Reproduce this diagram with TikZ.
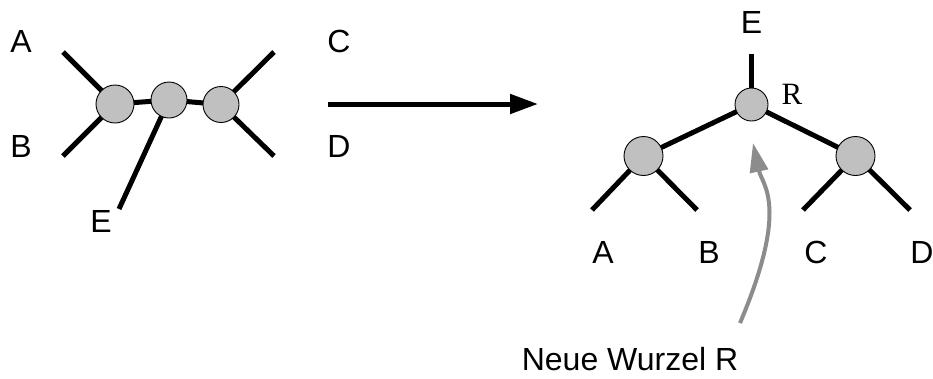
\documentclass[tikz,border=0pt]{standalone}
\usepackage{fontspec}
\setmainfont{Liberation Sans}
\newfontfamily\serifR{Liberation Serif}
\usetikzlibrary{arrows.meta,backgrounds}
\definecolor{knotgray}{HTML}{C0C0C0}
\definecolor{arrowgray}{HTML}{8C8C8C}
\tikzset{
  knot/.style={circle, draw=black, line width=0.9pt, fill=knotgray, inner sep=0pt, minimum size=#1},
  edge/.style={line width=5pt, line cap=butt},
  lbl/.style={anchor=base, inner sep=0pt, font=\fontsize{32}{38}\selectfont},
  rlbl/.style={anchor=base, inner sep=0pt, font=\fontsize{31}{36}\selectfont\serifR},
}
\begin{document}
\begin{tikzpicture}[x=1pt, y=-1pt]
\useasboundingbox (0,0) rectangle (933,378);

% unrooted tree
\node[knot=38pt] (u1) at (115,104) {};
\node[knot=36pt] (u2) at (169,100) {};
\node[knot=36pt] (u3) at (221,104.5) {};
\coordinate (uA) at (63,52);
\coordinate (uB) at (63,156);
\coordinate (uE) at (119,209);
\coordinate (uC) at (274,52);
\coordinate (uD) at (274,156);
\begin{scope}[on background layer]
  \draw[edge] (uA) -- (u1.center);
  \draw[edge] (uB) -- (u1.center);
  \draw[edge] (u1.center) -- (u2.center);
  \draw[edge] (u2.center) -- (u3.center);
  \draw[edge] (uE) -- (u2.center);
  \draw[edge] (uC) -- (u3.center);
  \draw[edge] (uD) -- (u3.center);
\end{scope}
\node[lbl] (tA) at (21,52) {A};
\node[lbl] (tB) at (21,157) {B};
\node[lbl] (tE) at (101,232) {E};
\node[lbl] (tC) at (339,52) {C};
\node[lbl] (tD) at (339,157) {D};

% transformation arrow
\coordinate (m0) at (328,104);
\coordinate (m1) at (538,104);
\draw[edge, -{Triangle[length=28pt, width=19pt]}] (m0) -- (m1);

% rooted tree
\node[knot=33pt] (r0) at (751.5,104.5) {};
\node[knot=39pt] (r1) at (643.5,156) {};
\node[knot=39pt] (r2) at (855.5,156) {};
\coordinate (rE) at (751.5,54);
\coordinate (rA) at (592,210);
\coordinate (rB) at (697,210);
\coordinate (rC) at (803,210);
\coordinate (rD) at (910,210);
\begin{scope}[on background layer]
  \draw[edge] (rE) -- (r0.center);
  \draw[edge] (r0.center) -- (r1.center);
  \draw[edge] (r0.center) -- (r2.center);
  \draw[edge] (rA) -- (r1.center);
  \draw[edge] (rB) -- (r1.center);
  \draw[edge] (rC) -- (r2.center);
  \draw[edge] (rD) -- (r2.center);
\end{scope}
\node[lbl] (sE) at (751.5,33) {E};
\node[rlbl] (sR) at (792,104) {R};
\node[lbl] (sA) at (603,263) {A};
\node[lbl] (sB) at (709,263) {B};
\node[lbl] (sC) at (816,263) {C};
\node[lbl] (sD) at (922,263) {D};

% pointer to the new root
\node[lbl] (caption) at (630,370) {Neue Wurzel R};
\coordinate (g0) at (740,323);
\coordinate (g1) at (753,143);
\draw[line width=4pt, arrowgray, -{Triangle[length=29pt, width=18pt]}]
  (g0) .. controls (790,205) and (762,185) .. (g1);
\end{tikzpicture}
\end{document}
